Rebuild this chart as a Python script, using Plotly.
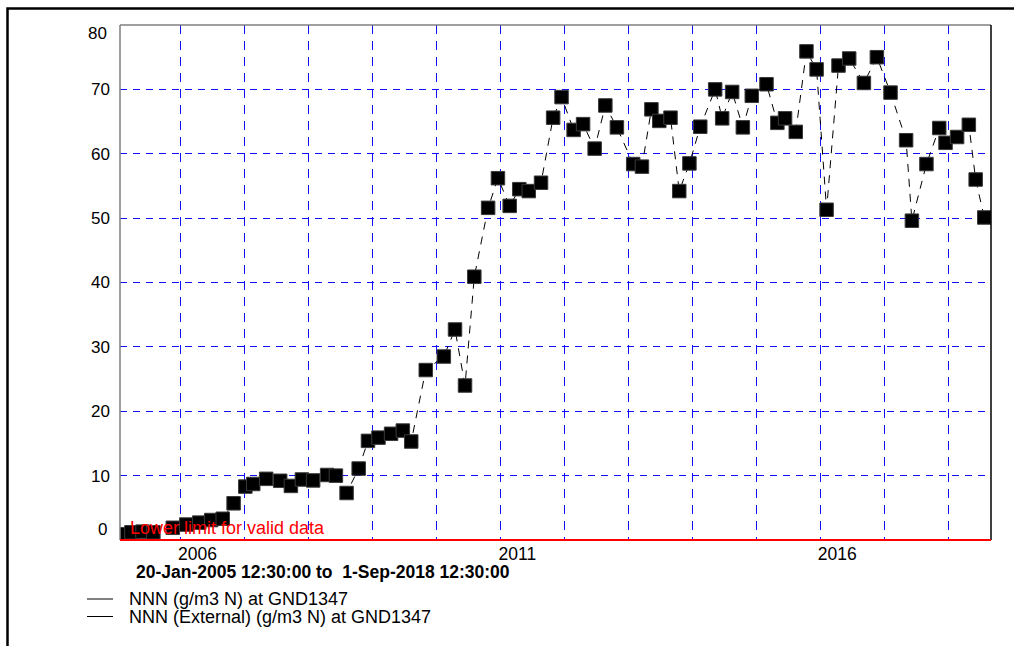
import plotly.graph_objects as go

# ---------------- data ----------------
sample_dates = [
    "2005-01-24", "2005-03-27", "2005-05-29", "2005-07-30", "2005-11-18",
    "2006-02-03", "2006-04-18", "2006-06-25", "2006-08-30", "2006-10-31",
    "2007-01-06", "2007-02-20", "2007-05-05", "2007-07-24", "2007-09-23",
    "2007-11-25", "2008-01-28", "2008-04-17", "2008-06-06", "2008-08-06",
    "2008-10-14", "2008-12-06", "2009-02-04", "2009-04-17", "2009-06-23",
    "2009-08-10", "2009-11-01", "2010-02-12", "2010-04-17", "2010-06-13",
    "2010-08-05", "2010-10-23", "2010-12-18", "2011-02-23", "2011-04-19",
    "2011-06-12", "2011-08-21", "2011-10-29", "2011-12-16", "2012-02-23",
    "2012-04-17", "2012-06-22", "2012-08-22", "2012-10-27", "2013-01-28",
    "2013-03-19", "2013-05-12", "2013-06-26", "2013-08-29", "2013-10-18",
    "2013-12-15", "2014-02-15", "2014-05-11", "2014-06-20", "2014-08-16",
    "2014-10-16", "2014-12-06", "2015-02-28", "2015-05-01", "2015-06-14",
    "2015-08-14", "2015-10-14", "2015-12-11", "2016-02-06", "2016-04-14",
    "2016-06-14", "2016-09-06", "2016-11-19", "2017-02-05", "2017-05-05",
    "2017-06-07", "2017-08-29", "2017-11-10", "2017-12-16", "2018-02-20",
    "2018-04-28", "2018-06-06", "2018-07-25",
]
nnn_values = [
    0.9, 1.2, 1.3, 1.2, 1.9,
    2.4, 2.7, 3.1, 3.3, 5.7,
    8.3, 8.7, 9.5, 9.2, 8.4,
    9.4, 9.25, 10.1, 10.0, 7.3,
    11.1, 15.4, 15.9, 16.5, 17.0,
    15.3, 26.4, 28.5, 32.7, 24.0,
    40.9, 51.6, 56.2, 51.9, 54.5,
    54.2, 55.5, 65.6, 68.8, 63.7,
    64.6, 60.8, 67.5, 64.1, 58.4,
    58.0, 66.9, 65.1, 65.6, 54.2,
    58.5, 64.2, 70.0, 65.5, 69.6,
    64.1, 69.0, 70.8, 64.8, 65.5,
    63.4, 75.9, 73.1, 51.3, 73.7,
    74.8, 71.0, 75.0, 69.5, 62.1,
    49.6, 58.4, 64.0, 61.7, 62.6,
    64.5, 56.0, 50.1,
]

year_ticks = ["2006-01-01", "2007-01-01", "2008-01-01", "2009-01-01", "2010-01-01",
              "2011-01-01", "2012-01-01", "2013-01-01", "2014-01-01", "2015-01-01",
              "2016-01-01", "2017-01-01", "2018-01-01"]
year_labels = ["2006", "", "", "", "", "2011", "", "", "", "", "2016", "", ""]
y_ticks = [10, 20, 30, 40, 50, 60, 70]
y_tick_labels = ["10", "20", "30", "40", "50", "60", "70"]

x_start = "2005-01-20 12:30:00"
x_end = "2018-09-01 12:30:00"
y_min, y_max = 0, 80
lower_limit = 0
lower_limit_text = "Lower limit for valid data"
series_names = ["NNN (g/m3 N) at GND1347", "NNN (External) (g/m3 N) at GND1347"]
range_text = "20-Jan-2005 12:30:00 to\u00a0 1-Sep-2018 12:30:00"

# ---------------- figure ----------------
FONT = "Liberation Sans, Arial, sans-serif"
W, H = 1014, 646
ML, MR, MT, MB = 120, 23, 25, 106
PW, PH = W - ML - MR, H - MT - MB


def px_x(p):
    return (p - ML) / PW


def px_y(p):
    return (H - MB - p) / PH


fig = go.Figure()
fig.add_trace(go.Scatter(
    x=sample_dates, y=nnn_values, mode="lines+markers",
    name=series_names[0],
    line=dict(color="black", width=1, dash="8px,7px"),
    marker=dict(symbol="square", size=13.5, color="black",
                line=dict(color="#3a3a3a", width=1)),
    showlegend=False,
))

limit_paper = (lower_limit - y_min) / (y_max - y_min)

shapes = [
    # outer frame (only left/top visible)
    dict(type="rect", xref="paper", yref="paper",
         x0=px_x(7.5), x1=px_x(1060), y0=px_y(700), y1=px_y(8.5),
         line=dict(color="black", width=2.5), layer="above"),
    # plot borders
    dict(type="line", xref="paper", yref="paper", x0=0, x1=0, y0=0, y1=1,
         line=dict(color="#7f7f7f", width=1.5)),
    dict(type="line", xref="paper", yref="paper", x0=0, x1=1, y0=1, y1=1,
         line=dict(color="#7f7f7f", width=1.5)),
    dict(type="line", xref="paper", yref="paper", x0=1, x1=1, y0=0, y1=1,
         line=dict(color="black", width=1.5)),
    # lower-limit line
    dict(type="line", xref="paper", yref="paper", x0=0, x1=1,
         y0=limit_paper, y1=limit_paper,
         line=dict(color="#ff0000", width=2)),
    # legend line samples
    dict(type="line", xref="paper", yref="paper", x0=px_x(87), x1=px_x(113),
         y0=px_y(599), y1=px_y(599), line=dict(color="black", width=1)),
    dict(type="line", xref="paper", yref="paper", x0=px_x(87), x1=px_x(113),
         y0=px_y(616.5), y1=px_y(616.5), line=dict(color="black", width=1)),
]

annotations = [
    dict(text="0", xref="paper", yref="y", x=px_x(109), y=y_min, yshift=11,
         xanchor="right", yanchor="middle", showarrow=False,
         font=dict(family=FONT, size=17, color="black")),
    dict(text="80", xref="paper", yref="y", x=px_x(109), y=y_max, yshift=-8,
         xanchor="right", yanchor="middle", showarrow=False,
         font=dict(family=FONT, size=17, color="black")),
    dict(text=lower_limit_text, xref="paper", yref="y", x=px_x(128), y=lower_limit,
         yshift=12, xanchor="left", yanchor="middle", showarrow=False,
         font=dict(family=FONT, size=18, color="#ff0000")),
    dict(text="<b>" + range_text + "</b>", xref="paper", yref="paper",
         x=px_x(134), y=px_y(572), xanchor="left", yanchor="middle", showarrow=False,
         font=dict(family=FONT, size=17.5, color="black")),
    dict(text=series_names[0], xref="paper", yref="paper",
         x=px_x(126.5), y=px_y(599), xanchor="left", yanchor="middle", showarrow=False,
         font=dict(family=FONT, size=18, color="black")),
    dict(text=series_names[1], xref="paper", yref="paper",
         x=px_x(126.5), y=px_y(616.5), xanchor="left", yanchor="middle", showarrow=False,
         font=dict(family=FONT, size=18, color="black")),
]

fig.update_layout(
    width=W, height=H, autosize=False,
    margin=dict(l=ML, r=MR, t=MT, b=MB, pad=0),
    paper_bgcolor="white", plot_bgcolor="white",
    font=dict(family=FONT, size=17, color="black"),
    showlegend=False,
    shapes=shapes,
    annotations=annotations,
    xaxis=dict(
        type="date", range=[x_start, x_end],
        tickmode="array", tickvals=year_ticks, ticktext=year_labels,
        showgrid=True, gridcolor="#1010ff", gridwidth=1, griddash="9px,7px",
        zeroline=False, showline=False, ticks="",
        ticklabelshift=17, ticklabelstandoff=1,
        tickfont=dict(family=FONT, size=17.5, color="black"),
        fixedrange=True,
    ),
    yaxis=dict(
        range=[y_min, y_max],
        tickmode="array", tickvals=y_ticks, ticktext=y_tick_labels,
        showgrid=True, gridcolor="#1010ff", gridwidth=1, griddash="7px,6px",
        zeroline=False, showline=False, ticks="",
        ticklabelstandoff=9,
        tickfont=dict(family=FONT, size=17, color="black"),
        fixedrange=True,
    ),
)

fig.write_html("out.html", config={"displayModeBar": False},
               post_script="document.body.style.margin='0';")
